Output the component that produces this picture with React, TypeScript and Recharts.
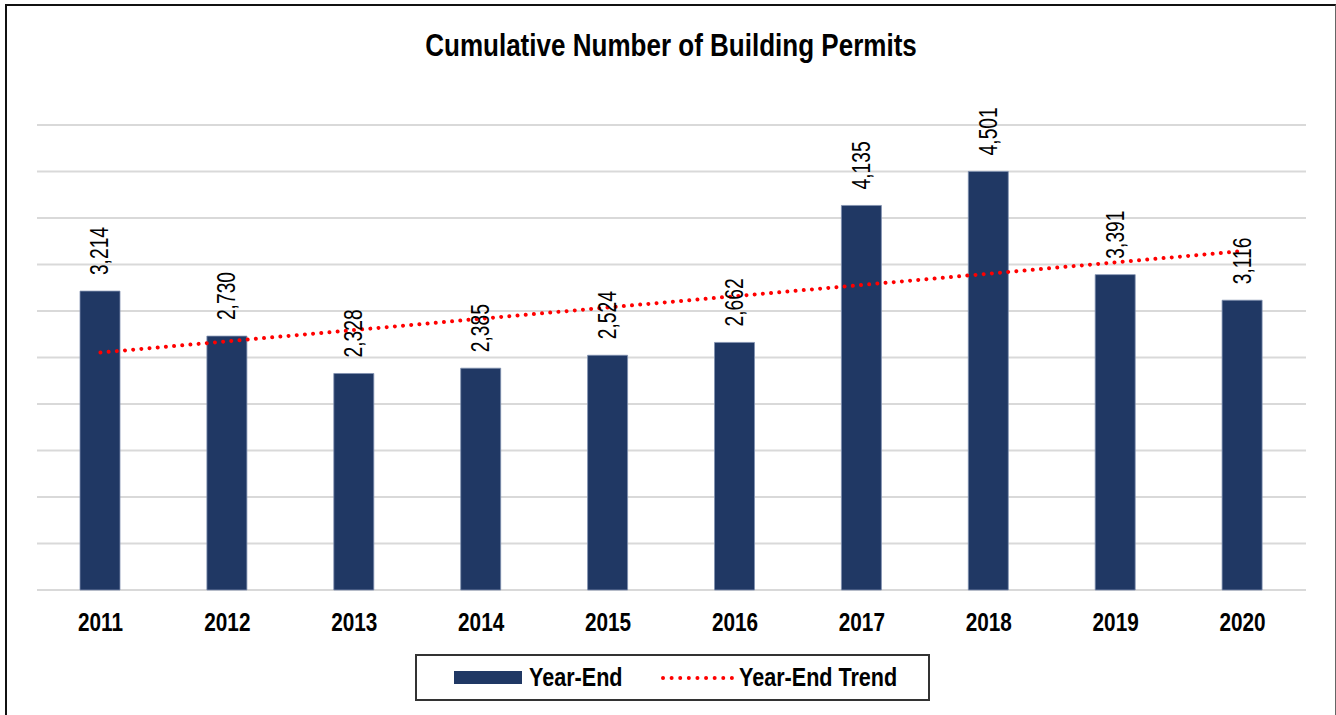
import { Bar, CartesianGrid, ComposedChart, LabelList, Line, XAxis, YAxis } from 'recharts'

// no Arial Narrow offline: Liberation Sans squeezed horizontally instead
const FONT = "'Liberation Sans', Arial, sans-serif"
const NARROW = 0.83
const BAR = '#203864'
const TREND = '#FF0000'
const GRID = '#D9D9D9'

const years = ['2011', '2012', '2013', '2014', '2015', '2016', '2017', '2018', '2019', '2020']
const yearEnd = [3214, 2730, 2328, 2385, 2524, 2662, 4135, 4501, 3391, 3116]
// trend line (straight dotted line, ~2,550 -> ~3,645)
const yearEndTrend = [2553, 2674, 2795, 2917, 3038, 3159, 3280, 3401, 3523, 3644]
const yTicks = [0, 500, 1000, 1500, 2000, 2500, 3000, 3500, 4000, 4500, 5000]

const data = years.map((year, i) => ({ year, yearEnd: yearEnd[i], trend: yearEndTrend[i] }))

function ValueLabel(props: any) {
  const { x, y, width, value } = props
  return (
    <text
      transform={`translate(${x + width / 2}, ${y - 16}) rotate(-90) scale(0.77, 1)`}
      textAnchor="start"
      dominantBaseline="central"
      fontFamily={FONT}
      fontSize={25}
      fill="#000"
    >
      {Number(value).toLocaleString('en-US')}
    </text>
  )
}

function YearTick(props: any) {
  const { x, y, payload } = props
  return (
    <text
      transform={`translate(${x}, ${y + 33}) scale(${NARROW}, 1)`}
      textAnchor="middle"
      fontFamily={FONT}
      fontSize={25}
      fontWeight="bold"
      fill="#000"
    >
      {payload.value}
    </text>
  )
}

function Overlay() {
  return (
    <svg width={1336} height={715} style={{ position: 'absolute', left: 0, top: 0, pointerEvents: 'none' }}>
      <text
        transform={`translate(671, 56) scale(0.84, 1)`}
        textAnchor="middle"
        fontFamily={FONT}
        fontSize={31}
        fontWeight="bold"
        fill="#000"
      >
        Cumulative Number of Building Permits
      </text>
      <g>
        <rect x={416} y={655} width={513} height={45} fill="#fff" stroke="#333" strokeWidth={2} />
        <rect x={454} y={671} width={68} height={13} fill={BAR} />
        <text transform={`translate(529, 686) scale(${NARROW}, 1)`} fontFamily={FONT} fontSize={26} fontWeight="bold" fill="#000">
          Year-End
        </text>
        <line x1={663} y1={678} x2={733} y2={678} stroke={TREND} strokeWidth={4} strokeLinecap="round" strokeDasharray="0.01 8.6" />
        <text transform={`translate(739, 686) scale(${NARROW}, 1)`} fontFamily={FONT} fontSize={26} fontWeight="bold" fill="#000">
          Year-End Trend
        </text>
      </g>
    </svg>
  )
}

export default function App() {
  return (
    <div style={{ position: 'absolute', left: 0, top: 0, width: 1336, height: 715, overflow: 'hidden', background: '#fff' }}>
      <div
        style={{
          position: 'absolute',
          left: 5,
          top: 4,
          width: 1328,
          height: 730,
          borderLeft: '2px solid #111',
          borderTop: '2px solid #111',
          borderRight: '1px solid #666',
        }}
      />
      <div style={{ position: 'absolute', left: 0, top: 0 }}>
        <ComposedChart width={1336} height={715} data={data} margin={{ top: 125, right: 30, left: 37, bottom: 95 }}>
          <CartesianGrid vertical={false} stroke={GRID} strokeWidth={2} />
          <XAxis dataKey="year" height={30} axisLine={false} tickLine={false} tick={<YearTick />} interval={0} />
          <YAxis hide domain={[0, 5000]} ticks={yTicks} />
          <Bar dataKey="yearEnd" name="Year-End" fill={BAR} stroke="#8091b0" strokeWidth={0.8} barSize={40} isAnimationActive={false}>
            <LabelList dataKey="yearEnd" content={<ValueLabel />} />
          </Bar>
          <Line
            dataKey="trend"
            name="Year-End Trend"
            type="linear"
            stroke={TREND}
            strokeWidth={4}
            strokeLinecap="round"
            strokeDasharray="0.01 8.2"
            dot={false}
            activeDot={false}
            isAnimationActive={false}
          />
        </ComposedChart>
      </div>
      <Overlay />
    </div>
  )
}
